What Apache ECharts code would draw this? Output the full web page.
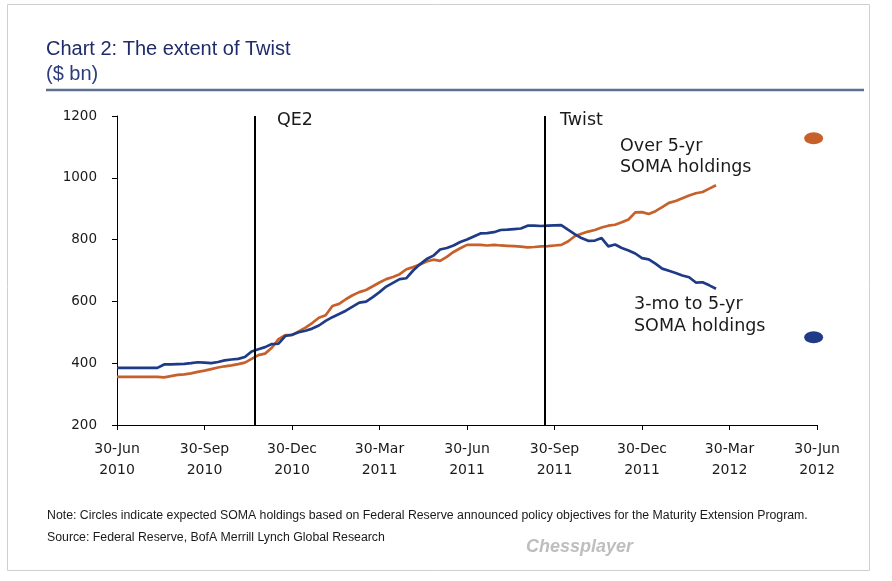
<!DOCTYPE html>
<html><head><meta charset="utf-8">
<script src="https://cdn.jsdelivr.net/npm/echarts/dist/echarts.min.js"></script>
<style>html,body{margin:0;padding:0;background:#fff}#c{width:892px;height:581px}</style>
</head><body><div id="c"></div>
<script>
// x axis measured in weeks since 30-Jun-2010; one tick label every 13 weeks (one quarter)
const tickLabels = ['30-Jun\n2010','30-Sep\n2010','30-Dec\n2010','30-Mar\n2011','30-Jun\n2011','30-Sep\n2011','30-Dec\n2011','30-Mar\n2012','30-Jun\n2012'];
const weeksPerTick = 13;
// weekly SOMA holdings, $ bn (week 0 = 30-Jun-2010)
const shortHoldings = [385,385,385,385,385,385,385,396,396,397,398,400,403,402,400,404,409,412,414,420,
  438,445,452,462,463,488,492,500,505,512,522,537,549,559,570,583,596,599,614,630,
  648,660,672,675,700,720,737,748,768,773,781,792,800,810,820,821,824,831,832,834,
  836,845,845,844,845,846,847,832,818,805,796,797,805,778,784,773,765,755,740,736,
  722,706,699,692,684,678,661,662,652,641];
const longHoldings = [356,356,356,356,356,356,356,354,358,362,364,367,372,376,381,386,390,393,397,402,
  414,426,431,450,478,491,491,503,515,530,547,555,585,592,607,620,630,637,649,661,
  672,679,688,704,711,719,729,735,731,744,760,772,783,783,783,781,783,781,780,779,
  777,775,776,778,779,781,783,794,811,819,826,831,839,845,848,856,865,888,889,883,
  892,905,919,925,934,943,950,954,965,976];
const eventNames = ['QE2','Twist'];
const eventWeeks = [20.4, 63.5];
const targetWeek = 103.5;
const targetLong = 1128;
const targetShort = 484;

const BLUE = '#1F3B87', ORANGE = '#C6612C';
const chart = echarts.init(document.getElementById('c'));
const toPairs = arr => arr.map((v, i) => [i, v]);
const annFont = '17.5px "DejaVu Sans", sans-serif';
const noteFont = '12.3px "Liberation Sans", Arial, sans-serif';
chart.setOption({
  animation: false,
  backgroundColor: '#fff',
  grid: {left: 117, right: 75, top: 116, bottom: 156},
  xAxis: {
    type: 'value', min: 0, max: 104, interval: weeksPerTick,
    axisLine: {lineStyle: {color: '#000', width: 1}},
    axisTick: {show: true, length: 5, lineStyle: {color: '#000'}},
    splitLine: {show: false},
    axisLabel: {
      formatter: v => tickLabels[Math.round(v / weeksPerTick)] || '',
      fontFamily: 'DejaVu Sans', fontSize: 14, color: '#1a1a1a', lineHeight: 21, margin: 14
    }
  },
  yAxis: {
    type: 'value', min: 200, max: 1200, interval: 200,
    axisLine: {show: true, lineStyle: {color: '#000', width: 1}},
    axisTick: {show: true, length: 5, lineStyle: {color: '#000'}},
    splitLine: {show: false},
    axisLabel: {formatter: v => String(v), fontFamily: 'DejaVu Sans', fontSize: 13.5, color: '#1a1a1a', margin: 20}
  },
  series: [
    {type: 'line', data: toPairs(shortHoldings), showSymbol: false, symbol: 'none',
     lineStyle: {color: BLUE, width: 2.7}, itemStyle: {color: BLUE}, z: 3,
     markLine: {silent: true, symbol: ['none','none'], label: {show: false},
       lineStyle: {color: '#000', width: 2, type: 'solid'},
       data: eventWeeks.map(w => ({xAxis: w}))}},
    {type: 'line', data: toPairs(longHoldings), showSymbol: false, symbol: 'none',
     lineStyle: {color: ORANGE, width: 2.7}, itemStyle: {color: ORANGE}, z: 2},
    {type: 'scatter', data: [[targetWeek, targetLong]], symbol: 'circle', symbolSize: [19, 12],
     itemStyle: {color: ORANGE, opacity: 1}, clip: false},
    {type: 'scatter', data: [[targetWeek, targetShort]], symbol: 'circle', symbolSize: [19, 12],
     itemStyle: {color: BLUE, opacity: 1}, clip: false}
  ],
  graphic: [
    {type: 'rect', shape: {x: 7.5, y: 4.5, width: 862, height: 566}, style: {fill: 'none', stroke: '#cfcfcf', lineWidth: 1}, silent: true, z: -1},
    {type: 'line', shape: {x1: 46, y1: 90, x2: 864, y2: 90}, style: {stroke: '#5E7090', lineWidth: 2.5}},
    {type: 'text', x: 46, y: 49, style: {text: 'Chart 2: The extent of Twist', font: '20px "Liberation Sans", Arial, sans-serif', fill: '#1F2B6A', verticalAlign: 'middle'}},
    {type: 'text', x: 46, y: 74, style: {text: '($ bn)', font: '20px "Liberation Sans", Arial, sans-serif', fill: '#2C3C7C', verticalAlign: 'middle'}},
    {type: 'text', x: 277, y: 120, style: {text: eventNames[0], font: annFont, fill: '#1a1a1a', verticalAlign: 'middle'}},
    {type: 'text', x: 560, y: 120, style: {text: eventNames[1], font: annFont, fill: '#1a1a1a', verticalAlign: 'middle'}},
    {type: 'text', x: 620, y: 146, style: {text: 'Over 5-yr', font: annFont, fill: '#1a1a1a', verticalAlign: 'middle'}},
    {type: 'text', x: 620, y: 167, style: {text: 'SOMA holdings', font: annFont, fill: '#1a1a1a', verticalAlign: 'middle'}},
    {type: 'text', x: 634, y: 304, style: {text: '3-mo to 5-yr', font: annFont, fill: '#1a1a1a', verticalAlign: 'middle'}},
    {type: 'text', x: 634, y: 326, style: {text: 'SOMA holdings', font: annFont, fill: '#1a1a1a', verticalAlign: 'middle'}},
    {type: 'text', x: 47, y: 516, style: {text: 'Note: Circles indicate expected SOMA holdings based on Federal Reserve announced policy objectives for the Maturity Extension Program.', font: noteFont, fill: '#1a1a1a', verticalAlign: 'middle'}},
    {type: 'text', x: 47, y: 538, style: {text: 'Source: Federal Reserve, BofA Merrill Lynch Global Research', font: noteFont, fill: '#1a1a1a', verticalAlign: 'middle'}},
    {type: 'text', x: 526, y: 547, style: {text: 'Chessplayer', font: 'italic bold 18px "Liberation Sans", Arial, sans-serif', fill: '#BEBEBE', verticalAlign: 'middle'}}
  ]
});
</script></body></html>
